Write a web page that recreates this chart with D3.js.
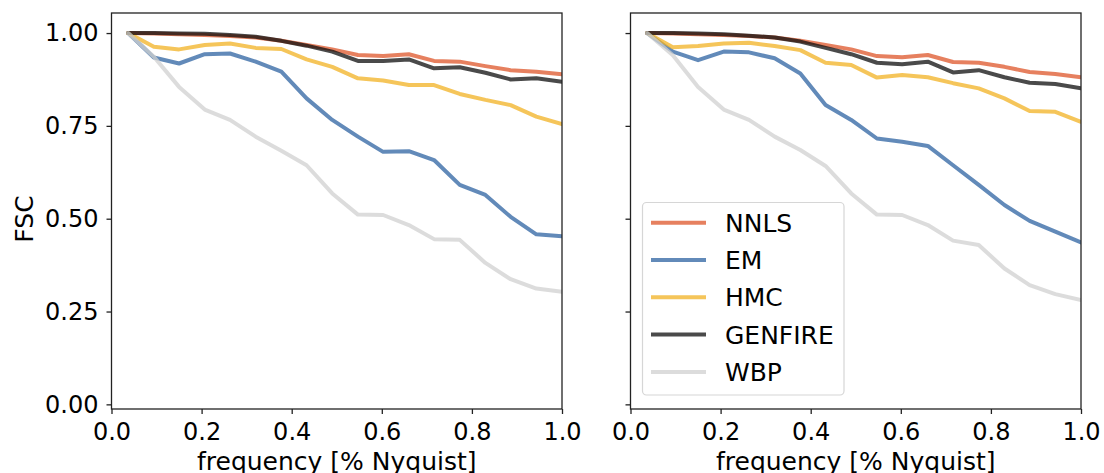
<!DOCTYPE html>
<html>
<head>
<meta charset="utf-8">
<script src="https://cdn.jsdelivr.net/npm/d3@7"></script>
<style>
  body { margin: 0; background: #fff; }
  svg { font-family: "DejaVu Sans", sans-serif; }
</style>
</head>
<body>
<svg id="chart" width="1104" height="473"></svg>
<script>
// frequency bins (fraction of Nyquist)
var freq = [0.037, 0.094, 0.150, 0.207, 0.263, 0.320, 0.377, 0.433, 0.490,
            0.547, 0.603, 0.660, 0.716, 0.773, 0.830, 0.886, 0.943, 1.000];

var seriesNames = ["NNLS", "EM", "HMC", "GENFIRE", "WBP"];
var seriesColors = ["#dd5529", "#2d63a1", "#f2b123", "#0e0e0e", "#d0d0d0"];

var yTicks = [0, 0.25, 0.5, 0.75, 1.0];
var xTicks = [0, 0.2, 0.4, 0.6, 0.8, 1.0];

// left panel
var leftNNLS    = [1.0, 0.999, 0.997, 0.995, 0.992, 0.988, 0.979, 0.968, 0.956, 0.941, 0.938, 0.943, 0.925, 0.923, 0.911, 0.900, 0.896, 0.889];
var leftEM      = [1.0, 0.934, 0.918, 0.943, 0.945, 0.923, 0.896, 0.824, 0.766, 0.721, 0.680, 0.682, 0.658, 0.591, 0.564, 0.505, 0.458, 0.453];
var leftHMC     = [1.0, 0.963, 0.956, 0.968, 0.972, 0.960, 0.957, 0.929, 0.909, 0.878, 0.872, 0.860, 0.860, 0.836, 0.820, 0.806, 0.775, 0.755];
var leftGENFIRE = [1.0, 1.0, 0.999, 0.998, 0.995, 0.990, 0.979, 0.966, 0.950, 0.925, 0.925, 0.929, 0.905, 0.908, 0.893, 0.875, 0.878, 0.869];
var leftWBP     = [1.0, 0.936, 0.855, 0.794, 0.766, 0.721, 0.683, 0.644, 0.568, 0.511, 0.510, 0.483, 0.445, 0.443, 0.381, 0.337, 0.312, 0.303];

// right panel
var rightNNLS    = [1.0, 0.999, 0.997, 0.995, 0.992, 0.988, 0.979, 0.968, 0.956, 0.938, 0.935, 0.941, 0.922, 0.920, 0.909, 0.895, 0.890, 0.881];
var rightEM      = [1.0, 0.950, 0.927, 0.950, 0.948, 0.932, 0.891, 0.806, 0.766, 0.716, 0.707, 0.696, 0.644, 0.591, 0.537, 0.494, 0.465, 0.436];
var rightHMC     = [1.0, 0.962, 0.965, 0.972, 0.974, 0.965, 0.954, 0.920, 0.914, 0.880, 0.887, 0.881, 0.865, 0.851, 0.824, 0.790, 0.788, 0.761];
var rightGENFIRE = [1.0, 1.0, 0.999, 0.997, 0.993, 0.988, 0.977, 0.960, 0.943, 0.920, 0.916, 0.923, 0.894, 0.900, 0.881, 0.866, 0.863, 0.851];
var rightWBP     = [1.0, 0.940, 0.855, 0.794, 0.766, 0.721, 0.685, 0.642, 0.568, 0.511, 0.510, 0.483, 0.441, 0.429, 0.366, 0.321, 0.297, 0.281];

var svg = d3.select("#chart");

var panels = [
  {left: 111.5, right: 562, data: [leftNNLS, leftEM, leftHMC, leftGENFIRE, leftWBP], yLabels: true, legend: false},
  {left: 630.5, right: 1081, data: [rightNNLS, rightEM, rightHMC, rightGENFIRE, rightWBP], yLabels: false, legend: true}
];
var plotTop = 13, plotBottom = 409;

var y = d3.scaleLinear().domain([-0.0125, 1.054]).range([plotBottom, plotTop]);

panels.forEach(function(p, pi) {
  var x = d3.scaleLinear().domain([0, 1]).range([p.left, p.right]);
  var g = svg.append("g");

  g.append("clipPath").attr("id", "clip" + pi)
    .append("rect")
      .attr("x", p.left).attr("y", plotTop)
      .attr("width", p.right - p.left).attr("height", plotBottom - plotTop);

  var line = d3.line()
    .x(function(d, i) { return x(freq[i]); })
    .y(function(d) { return y(d); });

  g.append("g").attr("clip-path", "url(#clip" + pi + ")")
    .selectAll("path")
    .data(p.data)
    .enter().append("path")
      .attr("d", line)
      .attr("fill", "none")
      .attr("stroke", function(d, i) { return seriesColors[i]; })
      .attr("stroke-opacity", 0.75)
      .attr("stroke-width", 4)
      .attr("stroke-linejoin", "round")
      .attr("stroke-linecap", "round");

  // axes
  var xAxis = d3.axisBottom(x).tickValues(xTicks).tickSize(5).tickPadding(9)
    .tickFormat(d3.format(".1f"));
  var gx = g.append("g")
    .attr("transform", "translate(0," + plotBottom + ")")
    .call(xAxis);

  var yAxis = d3.axisLeft(y).tickValues(yTicks).tickSize(5).tickPadding(8)
    .tickFormat(p.yLabels ? d3.format(".2f") : function() { return ""; });
  var gy = g.append("g")
    .attr("transform", "translate(" + p.left + ",0)")
    .call(yAxis);

  [gx, gy].forEach(function(a) {
    a.select(".domain").remove();
    a.selectAll(".tick line").attr("stroke", "#222").attr("stroke-width", 1.3);
    a.selectAll(".tick text").attr("fill", "#000").style("font-size", "24px")
      .style("font-family", "'DejaVu Sans', sans-serif");
  });

  // frame
  g.append("rect")
    .attr("x", p.left).attr("y", plotTop)
    .attr("width", p.right - p.left).attr("height", plotBottom - plotTop)
    .attr("fill", "none").attr("stroke", "#222").attr("stroke-width", 1.3);

  g.append("text")
    .attr("x", (p.left + p.right) / 2).attr("y", 470)
    .attr("text-anchor", "middle")
    .style("font-size", "25px")
    .text("frequency [% Nyquist]");

  if (p.legend) {
    var lg = svg.append("g");
    lg.append("rect")
      .attr("x", 642.5).attr("y", 202.5)
      .attr("width", 201.5).attr("height", 192.5)
      .attr("rx", 4)
      .attr("fill", "#fff").attr("fill-opacity", 0.8)
      .attr("stroke", "#d6d6d6").attr("stroke-width", 1.2);
    var rows = lg.selectAll("g.row")
      .data(seriesNames)
      .enter().append("g")
        .attr("class", "row")
        .attr("transform", function(d, i) { return "translate(0," + (222.7 + i * 37.3) + ")"; });
    rows.append("line")
      .attr("x1", 651).attr("x2", 706)
      .attr("stroke", function(d, i) { return seriesColors[i]; })
      .attr("stroke-opacity", 0.75)
      .attr("stroke-width", 4);
    rows.append("text")
      .attr("x", 725).attr("dy", "0.36em")
      .style("font-size", "25px")
      .text(function(d) { return d; });
  }
});

svg.append("text")
  .attr("transform", "translate(33,219) rotate(-90)")
  .attr("text-anchor", "middle")
  .style("font-size", "25px")
  .text("FSC");
</script>
</body>
</html>
